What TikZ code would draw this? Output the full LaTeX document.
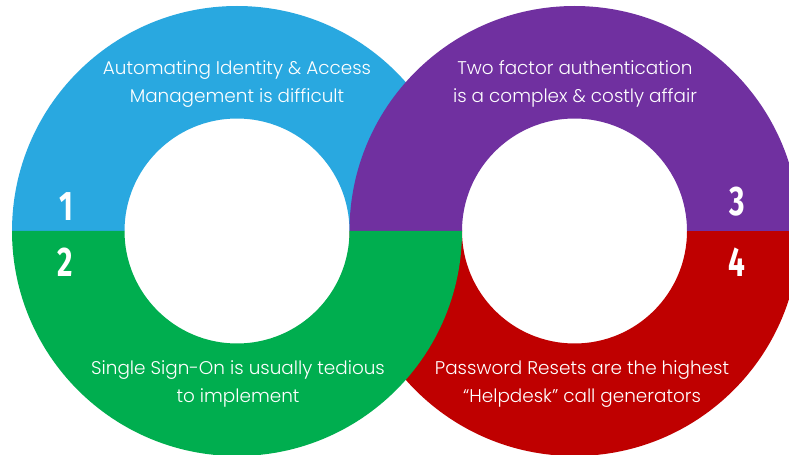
\documentclass[tikz,border=0pt]{standalone}
\usepackage{fontspec}
\setmainfont{Poppins}[UprightFont=* Light]
\newfontfamily\numfont{Fira Sans}
\definecolor{ringblue}{HTML}{29A8E0}
\definecolor{ringpurple}{HTML}{7030A0}
\definecolor{ringgreen}{HTML}{00AE4F}
\definecolor{ringred}{HTML}{BF0000}
\tikzset{
	issue/.style={text=white,align=center,font=\fontsize{13.8}{20.5}\selectfont},
	num/.style={text=white,font=\numfont\bfseries\fontsize{31}{31}\selectfont,xscale=0.72}
}
\newcommand{\Ro}{168.75pt}
\newcommand{\Ri}{84.375pt}
\begin{document}
\begin{tikzpicture}[x=0.75pt,y=0.75pt]
				\clip (0,0) rectangle (789,454);
				\fill[white] (0,0) rectangle (789,454);
				\coordinate (lc) at (237,223);
				\coordinate (rc) at (574.5,223);
				\fill[ringblue] (lc) ++(-225,0) arc[start angle=180,end angle=0,radius=\Ro] -- ++(-112.5,0) arc[start angle=0,end angle=180,radius=\Ri] -- cycle;
				\fill[ringred] (rc) ++(-225,0) arc[start angle=180,end angle=360,radius=\Ro] -- ++(-112.5,0) arc[start angle=360,end angle=180,radius=\Ri] -- cycle;
				\fill[ringpurple] (rc) ++(-225,0) arc[start angle=180,end angle=0,radius=\Ro] -- ++(-112.5,0) arc[start angle=0,end angle=180,radius=\Ri] -- cycle;
				\fill[ringgreen] (lc) ++(-225,0) arc[start angle=180,end angle=360,radius=\Ro] -- ++(-112.5,0) arc[start angle=360,end angle=180,radius=\Ri] -- cycle;
				\node[issue] (one) at (237,370) {Automating Identity \& Access\\Management is difficult};
				\node[issue] (three) at (575,370) {Two factor authentication\\is a complex \& costly affair};
				\node[issue] (two) at (238,70) {Single Sign-On is usually tedious\\to implement};
				\node[issue] (four) at (582,70) {Password Resets are the highest\\``Helpdesk'' call generators};
				\node[num] (n1) at (66,247) {1};
				\node[num] (n2) at (65,192) {2};
				\node[num] (n3) at (737,252) {3};
				\node[num] (n4) at (737,192) {4};
			\end{tikzpicture}
\end{document}
